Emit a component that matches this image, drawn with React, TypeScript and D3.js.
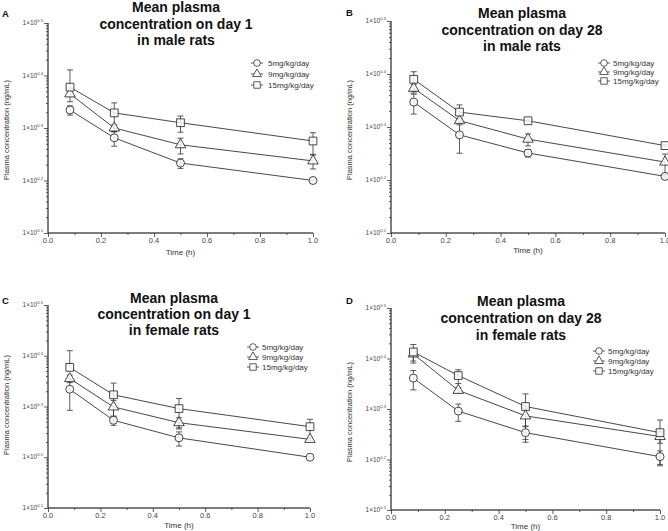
import React, { useEffect, useRef } from 'react'
import * as d3 from 'd3'

// sampling times (h)
const times = [0.083, 0.25, 0.5, 1.0]
const doseLabels = ['5mg/kg/day', '9mg/kg/day', '15mg/kg/day']
const xTicks = [0, 0.2, 0.4, 0.6, 0.8, 1.0]
const xMinorTicks = [0.1, 0.3, 0.5, 0.7, 0.9]
const yTicks = [1e1, 1e2, 1e3, 1e4, 1e5]
const yTickExponents = ['0.1', '0.2', '0.3', '0.4', '0.5']
const yLabel = 'Plasma concentration (ng/mL)'
const xLabel = 'Time (h)'

// mean and SD per dose (rows: 5, 9, 15 mg/kg/day)
const maleDay1Means = [
  [2200, 650, 215, 100],
  [4470, 1000, 480, 236],
  [6000, 1940, 1260, 565],
]
const maleDay1Sd = [
  [440, 200, 45, 5],
  [1300, 150, 160, 70],
  [6800, 1070, 430, 250],
]
const maleDay28Means = [
  [2950, 710, 323, 117],
  [5370, 1320, 590, 218],
  [7940, 1910, 1310, 445],
]
const maleDay28Sd = [
  [1200, 390, 52, 6],
  [1000, 120, 150, 90],
  [3100, 700, 50, 20],
]
const femaleDay1Means = [
  [2190, 535, 241, 100],
  [3550, 980, 480, 225],
  [5900, 1700, 910, 400],
]
const femaleDay1Sd = [
  [1350, 110, 75, 4],
  [600, 340, 120, 10],
  [6700, 1190, 530, 160],
]
const femaleDay28Means = [
  [4090, 910, 340, 114],
  [12300, 2340, 730, 285],
  [13500, 4590, 1120, 340],
]
const femaleDay28Sd = [
  [1700, 340, 120, 34],
  [3400, 300, 285, 75],
  [5400, 1400, 870, 265],
]

const panels = [
  {
    letter: 'A', lx: 2, ly: 17,
    title: ['Mean plasma', 'concentration on day 1', 'in male rats'],
    tx: 176, tys: [12, 29, 45],
    means: maleDay1Means, sds: maleDay1Sd,
    x0: 48, x1: 313, yTop: 23, yBottom: 233,
    legX: 257, legText: 268, legYs: [63, 74, 85],
    labX: 9, labY: 130, xLabY: 255, xTickY: 243,
  },
  {
    letter: 'B', lx: 346, ly: 16,
    title: ['Mean plasma', 'concentration on day 28', 'in male rats'],
    tx: 522, tys: [18, 35, 51],
    means: maleDay28Means, sds: maleDay28Sd,
    x0: 391, x1: 665, yTop: 21, yBottom: 233,
    legX: 604, legText: 613, legYs: [63, 72, 81],
    labX: 352, labY: 130, xLabY: 253, xTickY: 243,
  },
  {
    letter: 'C', lx: 2, ly: 304,
    title: ['Mean plasma', 'concentration on day 1', 'in female rats'],
    tx: 174, tys: [303, 319, 335],
    means: femaleDay1Means, sds: femaleDay1Sd,
    x0: 48, x1: 310, yTop: 305, yBottom: 508,
    legX: 253, legText: 262, legYs: [347, 357, 367],
    labX: 9, labY: 405, xLabY: 528, xTickY: 518,
  },
  {
    letter: 'D', lx: 346, ly: 304,
    title: ['Mean plasma', 'concentration on day 28', 'in female rats'],
    tx: 521, tys: [306, 323, 340],
    means: femaleDay28Means, sds: femaleDay28Sd,
    x0: 391, x1: 660, yTop: 308, yBottom: 510,
    legX: 599, legText: 608, legYs: [351, 361, 371],
    labX: 352, labY: 412, xLabY: 529, xTickY: 520,
  },
]

const symbolTypes = [d3.symbolCircle, d3.symbolTriangle, d3.symbolSquare]
const symbolSizes = [50, 48, 60]
const ink = '#333'
const font = 'Arial, "Liberation Sans", sans-serif'

const App = () => {
  const ref = useRef<SVGSVGElement>(null)

  useEffect(() => {
    const svg = d3.select(ref.current)
    svg.selectAll('*').remove()

    panels.forEach((p) => {
      const g = svg.append('g')
      const x = d3.scaleLinear().domain([0, 1]).range([p.x0, p.x1])
      const y = d3.scaleLog().domain([1e1, 1e5]).range([p.yBottom, p.yTop])

      // panel letter
      g.append('text').attr('x', p.lx).attr('y', p.ly).text(p.letter)
        .attr('font-family', font).attr('font-weight', 'bold').attr('font-size', 9.5).attr('fill', '#111')

      // title
      p.title.forEach((t, i) => {
        g.append('text').attr('x', p.tx).attr('y', p.tys[i]).text(t)
          .attr('text-anchor', 'middle').attr('font-family', font)
          .attr('font-weight', 'bold').attr('font-size', 14).attr('fill', '#111')
      })

      // y axis: log minor + major ticks
      const minor: number[] = []
      for (let d = 1; d < 5; d++) for (let k = 2; k < 10; k++) minor.push(k * Math.pow(10, d))
      const yMinor = g.append('g').attr('transform', `translate(${p.x0},0)`)
        .call(d3.axisLeft(y).tickValues(minor).tickSize(2).tickFormat(() => ''))
      const yMajor = g.append('g').attr('transform', `translate(${p.x0},0)`)
        .call(d3.axisLeft(y).tickValues(yTicks).tickSize(4).tickFormat(() => ''))
      ;[yMinor, yMajor].forEach((a) => {
        a.selectAll('path,line').attr('stroke', ink).attr('stroke-width', 0.8)
        a.select('.domain').attr('d', `M-0,${p.yTop}V${p.yBottom}`)
      })
      yTicks.forEach((v, i) => {
        const t = g.append('text').attr('x', p.x0 - 5).attr('y', y(v) + 2)
          .attr('text-anchor', 'end').attr('font-family', font).attr('font-size', 6.5).attr('fill', '#444')
        t.append('tspan').text('1×10')
        t.append('tspan').text(yTickExponents[i]).attr('font-size', 4.2).attr('dy', -3)
      })

      // x axis
      const xMinorAxis = g.append('g').attr('transform', `translate(0,${p.yBottom})`)
        .call(d3.axisBottom(x).tickValues(xMinorTicks).tickSize(2).tickFormat(() => ''))
      const xMajorAxis = g.append('g').attr('transform', `translate(0,${p.yBottom})`)
        .call(d3.axisBottom(x).tickValues(xTicks).tickSize(4).tickFormat(() => ''))
      ;[xMinorAxis, xMajorAxis].forEach((a) => {
        a.selectAll('path,line').attr('stroke', ink).attr('stroke-width', 0.8)
        a.select('.domain').attr('d', `M${p.x0},0H${p.x1}`)
      })
      xTicks.forEach((v) => {
        g.append('text').attr('x', x(v)).attr('y', p.xTickY).text(d3.format('.1f')(v))
          .attr('text-anchor', 'middle').attr('font-family', font).attr('font-size', 7.5).attr('fill', '#444')
      })

      // axis titles
      g.append('text').attr('transform', `translate(${p.labX},${p.labY}) rotate(-90)`)
        .text(yLabel).attr('text-anchor', 'middle').attr('font-family', font)
        .attr('font-size', 7.5).attr('fill', '#333')
      g.append('text').attr('x', (p.x0 + p.x1) / 2).attr('y', p.xLabY).text(xLabel)
        .attr('text-anchor', 'middle').attr('font-family', font).attr('font-size', 8).attr('fill', '#333')

      // series lines
      const line = d3.line<number>().x((_, i) => x(times[i])).y((d) => y(d))
      p.means.forEach((m) => {
        g.append('path').attr('d', line(m)).attr('fill', 'none').attr('stroke', ink).attr('stroke-width', 0.9)
      })
      // error bars (mean ± SD, lower half dropped when it goes below the axis)
      p.means.forEach((m, s) => {
        m.forEach((v, i) => {
          const sd = p.sds[s][i]
          const cx = x(times[i])
          const hi = y(v + sd)
          const lo = v - sd > 10 ? y(v - sd) : y(v)
          g.append('line').attr('x1', cx).attr('x2', cx).attr('y1', hi).attr('y2', lo)
            .attr('stroke', ink).attr('stroke-width', 0.8)
          g.append('line').attr('x1', cx - 3).attr('x2', cx + 3).attr('y1', hi).attr('y2', hi)
            .attr('stroke', ink).attr('stroke-width', 0.8)
          if (v - sd > 10) {
            g.append('line').attr('x1', cx - 3).attr('x2', cx + 3).attr('y1', lo).attr('y2', lo)
              .attr('stroke', ink).attr('stroke-width', 0.8)
          }
        })
      })
      // markers
      p.means.forEach((m, s) => {
        const sym = d3.symbol().type(symbolTypes[s]).size(symbolSizes[s])
        m.forEach((v, i) => {
          g.append('path').attr('d', sym()).attr('transform', `translate(${x(times[i])},${y(v)})`)
            .attr('fill', 'white').attr('fill-opacity', 0.85).attr('stroke', ink).attr('stroke-width', 0.9)
        })
      })

      // legend
      doseLabels.forEach((lab, s) => {
        const ly = p.legYs[s]
        g.append('line').attr('x1', p.legX - 6).attr('x2', p.legX + 6).attr('y1', ly).attr('y2', ly)
          .attr('stroke', ink).attr('stroke-width', 0.8)
        g.append('path').attr('d', d3.symbol().type(symbolTypes[s]).size(symbolSizes[s] * 0.7)())
          .attr('transform', `translate(${p.legX},${ly})`)
          .attr('fill', 'white').attr('stroke', ink).attr('stroke-width', 0.8)
        g.append('text').attr('x', p.legText).attr('y', ly + 3).text(lab)
          .attr('font-family', font).attr('font-size', 8).attr('fill', '#333')
      })
    })
  }, [])

  return (
    <svg ref={ref} width={668} height={531}
      style={{ position: 'absolute', left: 0, top: 0, background: 'white' }} />
  )
}

export default App
